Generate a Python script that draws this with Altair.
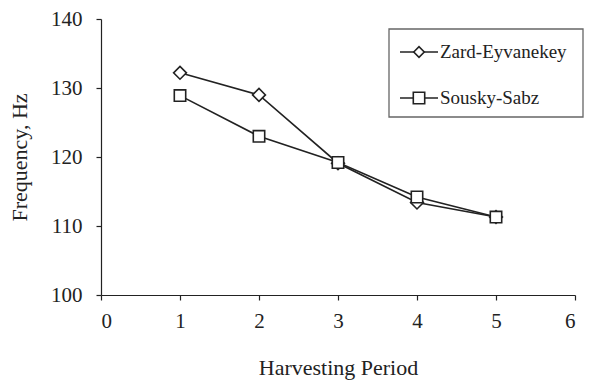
import altair as alt
import pandas as pd

periods = [1, 2, 3, 4, 5]
zard = [132.2, 129.0, 119.1, 113.4, 111.3]
sousky = [128.9, 123.0, 119.2, 114.2, 111.3]
series_names = ["Zard-Eyvanekey", "Sousky-Sabz"]
x_ticks = [0, 1, 2, 3, 4, 5, 6]
y_ticks = [100, 110, 120, 130, 140]

rows = []
for name, vals in zip(series_names, [zard, sousky]):
    for p, v in zip(periods, vals):
        rows.append({"period": p, "freq": v, "series": name})
df = pd.DataFrame(rows)
legend_df = pd.DataFrame({"series": series_names})
box_df = pd.DataFrame({"box": [1]})

FONT = "Liberation Serif"
INK = "#222222"

shape_scale = alt.Scale(domain=series_names, range=["diamond", "square"])
size_scale = alt.Scale(domain=series_names, range=[165, 130])

x_enc = alt.X("period:Q", scale=alt.Scale(domain=[0, 6], nice=False),
              axis=alt.Axis(values=x_ticks, title="Harvesting Period", format="d"))
y_enc = alt.Y("freq:Q", scale=alt.Scale(domain=[100, 140], nice=False, zero=False),
              axis=alt.Axis(values=y_ticks, title="Frequency, Hz", format="d"))

base = alt.Chart(df)

lines = base.mark_line(color=INK, strokeWidth=1.6).encode(
    x=x_enc, y=y_enc, detail="series:N")

points = base.mark_point(filled=False, fill="white", fillOpacity=1, stroke=INK,
                         strokeWidth=1.6, opacity=1).encode(
    x=x_enc, y=y_enc,
    shape=alt.Shape("series:N", scale=shape_scale, legend=None),
    size=alt.Size("series:N", scale=size_scale, legend=None))

main = alt.layer(lines, points)

# legend (drawn as marks inside the plot, positioned in pixels)
leg_y = alt.Y("series:N",
              scale=alt.Scale(type="point", domain=series_names, range=[33, 79], padding=0),
              axis=None)

leg_box = alt.Chart(box_df).mark_rect(fill="white", stroke="#666666", strokeWidth=1.3).encode(
    x=alt.value(288), x2=alt.value(482), y=alt.value(10), y2=alt.value(98))

leg_rules = alt.Chart(legend_df).mark_rule(color=INK, strokeWidth=1.6).encode(
    x=alt.value(299), x2=alt.value(337), y=leg_y)

leg_pts = alt.Chart(legend_df).mark_point(filled=False, fill="white", fillOpacity=1,
                                          stroke=INK, strokeWidth=1.6, opacity=1).encode(
    x=alt.value(318), y=leg_y,
    shape=alt.Shape("series:N", scale=shape_scale, legend=None),
    size=alt.Size("series:N", scale=alt.Scale(domain=series_names, range=[110, 130]),
                  legend=None))

leg_txt = alt.Chart(legend_df).mark_text(align="left", baseline="middle", font=FONT,
                                         fontSize=19, color=INK).encode(
    x=alt.value(339), y=leg_y, text="series:N")

legend = alt.layer(leg_box, leg_rules, leg_pts, leg_txt)

chart = alt.layer(main, legend).resolve_scale(y="independent", size="independent").properties(
    width=474, height=276,
    autosize=alt.AutoSizeParams(type="none"),
    padding={"left": 93, "top": 11, "right": 16, "bottom": 85},
).configure_view(stroke=None).configure_axis(
    grid=False, domainColor=INK, domainWidth=1.2, tickColor=INK, tickWidth=1.2,
    tickSize=5, labelFont=FONT, labelFontSize=21, labelColor=INK,
    titleFont=FONT, titleFontSize=22, titleFontWeight="normal", titleColor=INK,
).configure_axisX(labelPadding=10, titlePadding=26).configure_axisY(
    labelPadding=14, titlePadding=19)

chart.save("out.html", embed_options={"renderer": "svg", "actions": False})
